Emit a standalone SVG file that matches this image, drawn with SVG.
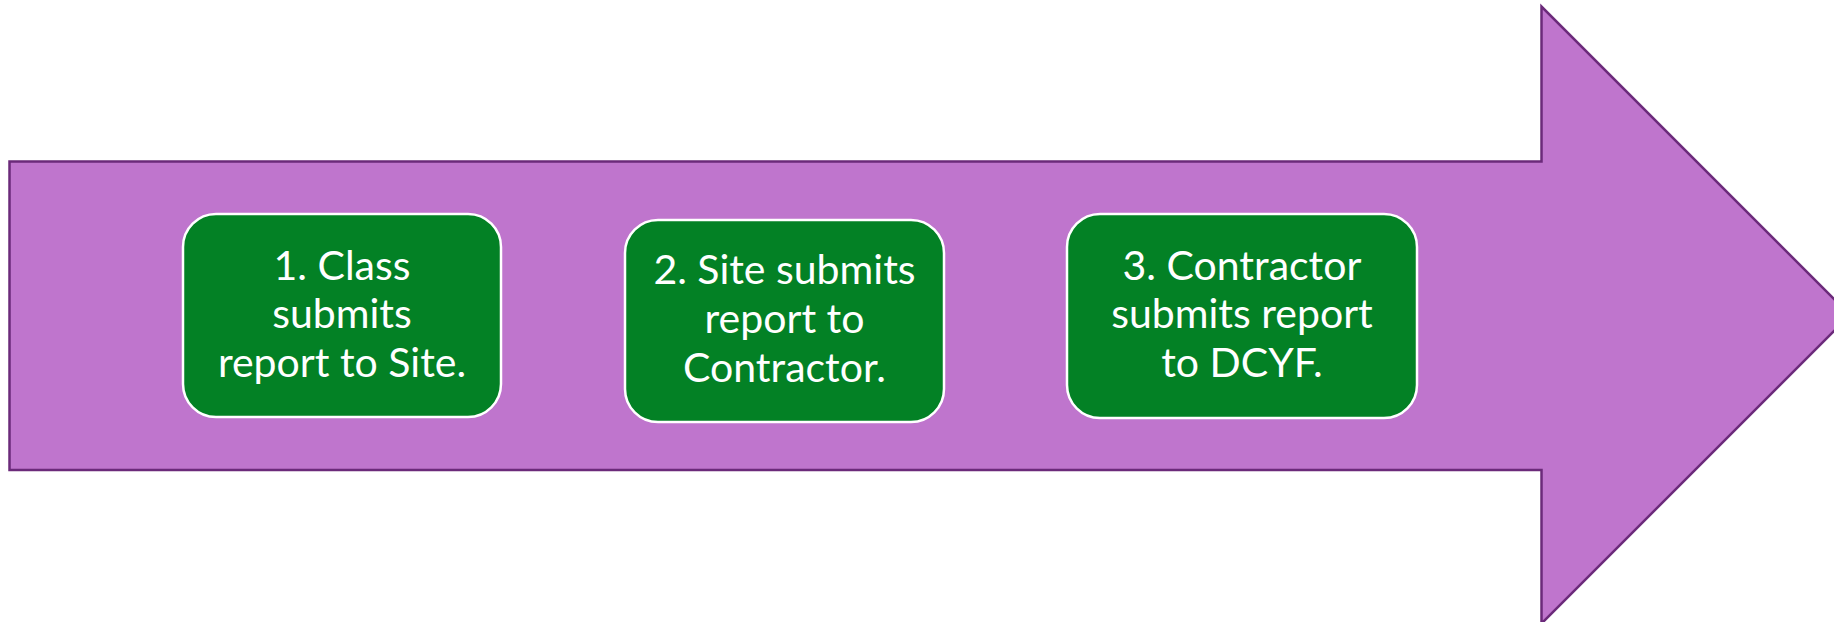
<svg xmlns="http://www.w3.org/2000/svg" width="1834" height="622" viewBox="0 0 1834 622">
  <style>
    .arrow { fill: #bf75cd; stroke: #6b2a7a; stroke-width: 2.5; stroke-linejoin: miter; }
    .step { fill: #038125; stroke: #ffffff; stroke-width: 2.5; }
    .label { font-family: "Lato", "Liberation Sans", sans-serif; font-size: 41px; fill: #ffffff; text-anchor: middle; }
  </style>
  <rect width="1834" height="622" fill="#ffffff"/>

  <!-- Process arrow -->
  <g id="flow-arrow">
    <path class="arrow" d="M9.5 161.5 H1541.5 V6.5 L1850 315 L1541.5 623.5 V470 H9.5 Z"/>
  </g>

  <g id="connectors"></g>

  <g id="step-1">
    <rect class="step" x="183" y="214" width="318" height="203" rx="33" ry="33"/>
    <text class="label" x="342" y="280">1. Class</text>
    <text class="label" x="342" y="328">submits</text>
    <text class="label" x="342" y="377">report to Site.</text>
  </g>

  <g id="step-2">
    <rect class="step" x="625" y="220" width="319" height="202" rx="33" ry="33"/>
    <text class="label" x="784.5" y="284">2. Site submits</text>
    <text class="label" x="784.5" y="333">report to</text>
    <text class="label" x="784.5" y="382">Contractor.</text>
  </g>

  <g id="step-3">
    <rect class="step" x="1067" y="214" width="350" height="204" rx="33" ry="33"/>
    <text class="label" x="1242" y="280">3. Contractor</text>
    <text class="label" x="1242" y="328">submits report</text>
    <text class="label" x="1242" y="377">to DCYF.</text>
  </g>
</svg>
